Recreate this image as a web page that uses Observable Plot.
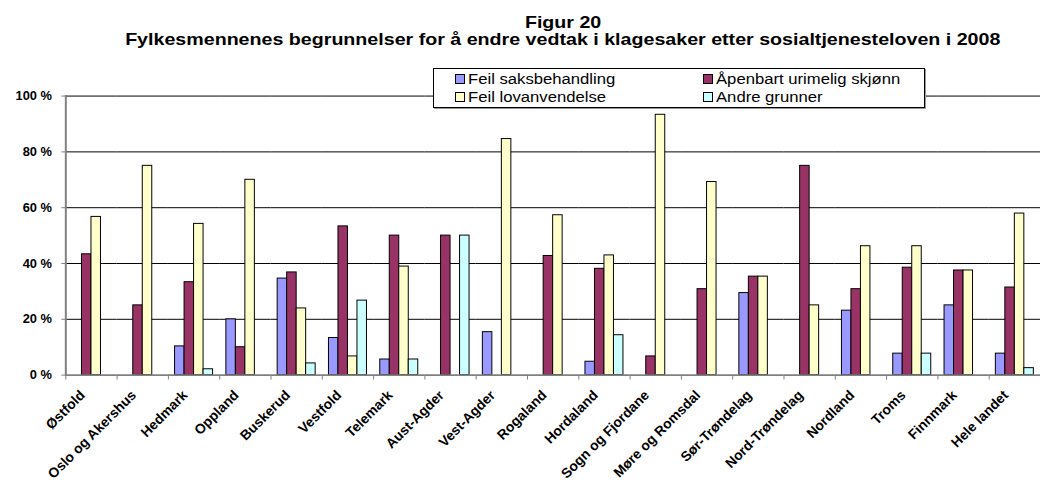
<!DOCTYPE html>
<html><head><meta charset="utf-8">
<script src="https://cdn.jsdelivr.net/npm/d3@7"></script>
<script src="https://cdn.jsdelivr.net/npm/@observablehq/plot@0.6"></script>
<style>
html,body{margin:0;padding:0;background:#fff;overflow:hidden;width:1040px;height:488px}
#wrap{position:relative;width:1040px;height:488px;overflow:hidden;font-family:"Liberation Sans",Arial,sans-serif;color:#000}
#titles{position:relative;height:56px}
.t{position:absolute;left:0;width:1126px;text-align:center;font-weight:bold;font-size:16.5px;line-height:16.5px;white-space:nowrap}
.t span{display:inline-block;transform:scaleX(1.19);transform-origin:center}
#legend{position:absolute;left:433px;top:68px;width:490px;height:38px;border:1px solid #000;background:#fff;box-shadow:1px 1px 0 #999;z-index:2}
.sw{position:absolute;width:8px;height:8px;border:1px solid #000}
.lt{position:absolute;font-size:14px;line-height:14px;white-space:nowrap;transform:scaleX(1.19);transform-origin:left}
svg{display:block}
</style>
</head><body>
<div id="wrap">
  <div id="titles">
    <div class="t" style="top:14px"><span id="t1"></span></div>
    <div class="t" style="top:31px"><span id="t2"></span></div>
  </div>
  <div id="legend"></div>
  <div id="chart"></div>
</div>
<script>
const title = "Figur 20";
const subtitle = "Fylkesmennenes begrunnelser for å endre vedtak i klagesaker etter sosialtjenesteloven i 2008";
const regions = ["Østfold","Oslo og Akershus","Hedmark","Oppland","Buskerud","Vestfold","Telemark","Aust-Agder","Vest-Agder","Rogaland","Hordaland","Sogn og Fjordane","Møre og Romsdal","Sør-Trøndelag","Nord-Trøndelag","Nordland","Troms","Finnmark","Hele landet"];
const seriesNames = ["Feil saksbehandling","Åpenbart urimelig skjønn","Feil lovanvendelse","Andre grunner"];
const feilSaksbehandling = [0,0,10.3,20,34.6,13.3,5.6,0,15.4,0,4.8,0,0,29.4,0,23.1,7.7,25,7.7];
const apenbartUrimelig   = [43.3,25,33.3,10,36.8,53.3,50,50,0,42.7,38.1,6.7,30.8,35.3,75,30.8,38.5,37.5,31.4];
const feilLovanvendelse  = [56.7,75,54.2,70,23.9,6.7,38.9,0,84.6,57.3,42.9,93.3,69.2,35.3,25,46.2,46.2,37.5,57.9];
const andreGrunner       = [0,0,2.1,0,4.2,26.7,5.6,50,0,0,14.3,0,0,0,0,0,7.7,0,2.5];
const yTicks = [0,20,40,60,80,100];
const colors = ["#9999FF","#993366","#FFFFCC","#CCFFFF"];

document.getElementById("t1").textContent = title;
document.getElementById("t2").textContent = subtitle;

// legend
const leg = document.getElementById("legend");
seriesNames.forEach((name, i) => {
  const col = i % 2, row = Math.floor(i / 2);
  const left = col ? 269 : 21;
  const cy = row ? 28 : 10;
  const sw = document.createElement("div");
  sw.className = "sw";
  sw.style.left = left + "px";
  sw.style.top = (cy - 5) + "px";
  sw.style.background = colors[i];
  leg.appendChild(sw);
  const tx = document.createElement("div");
  tx.className = "lt";
  tx.style.left = (left + 13) + "px";
  tx.style.top = (cy - 7) + "px";
  tx.textContent = name;
  leg.appendChild(tx);
});

const seriesValues = [feilSaksbehandling, apenbartUrimelig, feilLovanvendelse, andreGrunner];
const data = [];
regions.forEach((r, i) => seriesValues.forEach((vals, j) => {
  if (vals[i] > 0) data.push({region: r, series: seriesNames[j], value: vals[i]});
}));

const W = 1051, ML = 66, H = 432, MT = 40, MB = 110;
const band = (W - ML) / regions.length;

const chart = Plot.plot({
  width: W, height: H,
  marginLeft: ML, marginRight: 0, marginTop: MT, marginBottom: MB,
  style: {fontFamily: "'Liberation Sans', Arial, sans-serif", fontSize: "12px", color: "#000", background: "#fff", overflow: "visible"},
  fx: {domain: regions, padding: 0, round: false, label: null},
  x: {domain: seriesNames, paddingInner: 0, paddingOuter: 0.7, round: false, axis: null},
  y: {domain: [0, 100], label: null},
  color: {domain: seriesNames, range: colors},
  marks: [
    Plot.ruleY(yTicks.filter(d => d > 0), {stroke: "#000", strokeWidth: 1}),
    Plot.barY(data, {fx: "region", x: "series", y: "value", fill: "series", stroke: "#000", strokeWidth: 1}),
    Plot.ruleY([0], {stroke: "#808080", strokeWidth: 2}),
    Plot.frame({anchor: "left", stroke: "#808080", strokeWidth: 2, facet: "super"}),
    Plot.axisY({ticks: yTicks, tickFormat: d => d + " %", tickSize: 4, tickPadding: 10, stroke: "#808080", fontWeight: "bold", fontSize: 13, label: null}),
    Plot.axisFx({anchor: "bottom", tickSize: 5, tickFormat: () => "", dx: -band / 2, stroke: "#808080", label: null}),
    Plot.axisFx({anchor: "bottom", tickSize: 0, tickPadding: 18, dx: -9, tickRotate: -45, fontWeight: "bold", fontSize: 14, label: null})
  ]
});
document.getElementById("chart").appendChild(chart);
</script>
</body></html>
